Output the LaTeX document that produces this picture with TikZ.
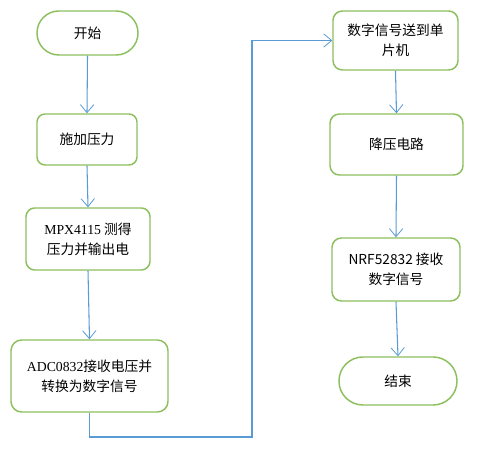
\documentclass[tikz,border=0pt]{standalone}
\usepackage{fontspec}
\setmainfont{Noto Sans CJK SC}
\newfontfamily\tnr{Liberation Serif}
\usetikzlibrary{arrows.meta}
\begin{document}
\begin{tikzpicture}[x=0.75pt,y=-0.75pt,
  box/.style={draw=green!45!black!45!lime!70!gray, draw=boxgreen, line width=1.1pt, fill=white, align=center, inner sep=0pt, font=\fontsize{10.3}{15}\selectfont},
  conn/.style={draw=linkblue, line width=0.8pt, -{Straight Barb[length=6pt,width=10pt,line width=0.6pt]}}]
\definecolor{boxgreen}{HTML}{8CBF5E}
\definecolor{linkblue}{HTML}{5B9BD5}
\useasboundingbox[fill=white] (0,0) rectangle (501,463);
\node[box, minimum width=75.75pt, minimum height=33pt, rounded corners=16.4pt] (start) at (87.5,33) {开始};
\node[box, minimum width=75pt, minimum height=38.25pt, rounded corners=6pt] (apply) at (87,139.5) {施加压力};
\node[box, minimum width=93pt, minimum height=46.5pt, rounded corners=6.5pt] (mpx) at (88,239) {{\tnr MPX4115} 测得\\压力并输出电};
\node[box, minimum width=117.75pt, minimum height=54pt, rounded corners=8pt] (adc) at (89.5,376) {{\tnr ADC0832}接收电压并\\转换为数字信号};
\node[box, minimum width=93.75pt, minimum height=44.25pt, rounded corners=7pt] (mcu) at (395.5,40.5) {数字信号送到单\\片机};
\node[box, minimum width=99.75pt, minimum height=45.75pt, rounded corners=7pt] (step) at (396.5,144.5) {降压电路};
\node[box, minimum width=96pt, minimum height=47.25pt, rounded corners=7pt] (nrf) at (396,269.5) {NRF52832 接收\\数字信号};
\node[box, minimum width=88.5pt, minimum height=36pt, rounded corners=17.9pt] (end) at (398,381) {结束};
\coordinate (c1) at (252,437);
\coordinate (c2) at (252,40.5);
\draw[conn] (start.south) -- (apply.north);
\draw[conn] (apply.south) -- (mpx.north);
\draw[conn] (mpx.south) -- (adc.north);
\draw[conn] (adc.south) |- (c1) -- (c2) -- (mcu.west);
\draw[conn] (mcu.south) -- (step.north);
\draw[conn] (step.south) -- (nrf.north);
\draw[conn] (nrf.south) -- (end.north);
\end{tikzpicture}
\end{document}
